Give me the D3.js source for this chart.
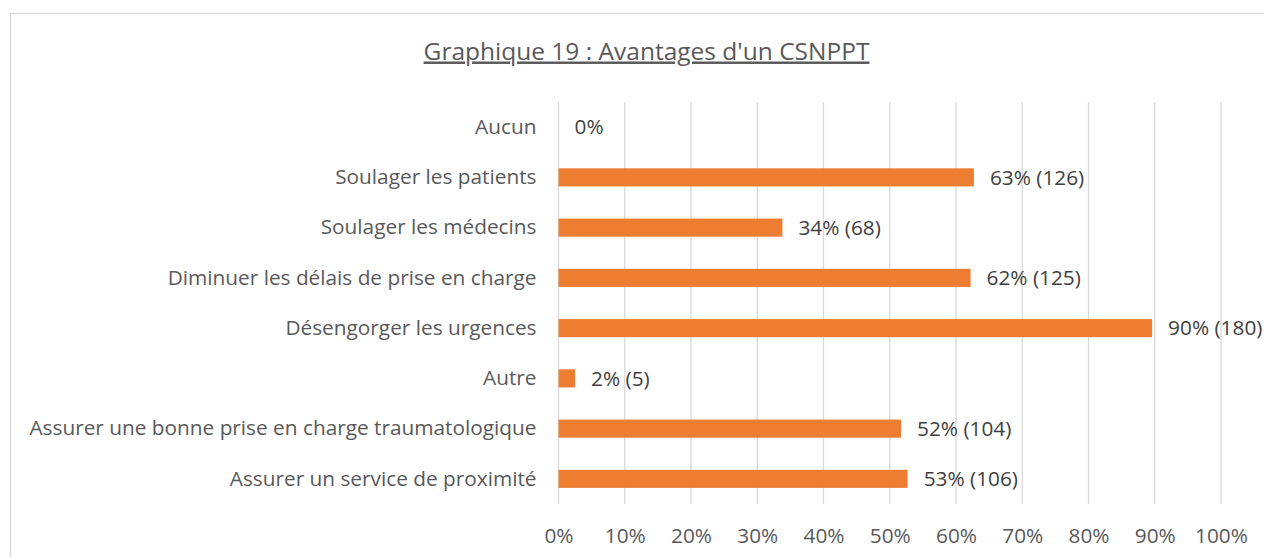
<!DOCTYPE html>
<html>
<head>
<meta charset="utf-8">
<script src="https://cdn.jsdelivr.net/npm/d3@7"></script>
<style>
  body { margin: 0; background: #fff; }
  text { font-family: "Open Sans", "Noto Sans", sans-serif; }
</style>
</head>
<body>
<script>
// Categories, top to bottom
const categories = [
    "Aucun",
    "Soulager les patients",
    "Soulager les médecins",
    "Diminuer les délais de prise en charge",
    "Désengorger les urgences",
    "Autre",
    "Assurer une bonne prise en charge traumatologique",
    "Assurer un service de proximité"
];
// Bar lengths in percent
const values = [0, 62.7, 33.8, 62.2, 89.6, 2.5, 51.7, 52.7];
// Data labels as printed
const labels = ["0%", "63% (126)", "34% (68)", "62% (125)", "90% (180)", "2% (5)", "52% (104)", "53% (106)"];
const ticks = [0, 10, 20, 30, 40, 50, 60, 70, 80, 90, 100];

const W = 1264, H = 557;
const plotLeft = 558.5, plotRight = 1221, plotTop = 102, plotBottom = 504;
const FS = 20.8;

const svg = d3.select("body").append("svg")
    .attr("width", W)
    .attr("height", H);

// chart frame
svg.append("rect")
    .attr("x", 10.5).attr("y", 13.5)
    .attr("width", 1264).attr("height", 600)
    .attr("fill", "none")
    .attr("stroke", "#d9d9d9")
    .attr("stroke-width", 1.3);

// Title
svg.append("text")
    .attr("x", 646.5)
    .attr("y", 59.5)
    .attr("text-anchor", "middle")
    .attr("font-size", 24.5)
    .attr("fill", "#595959")
    .attr("text-decoration", "underline")
    .text("Graphique 19 : Avantages d'un CSNPPT");

const x = d3.scaleLinear()
    .domain([0, 100])
    .range([plotLeft, plotRight]);

const y = d3.scaleBand()
    .domain(categories)
    .range([plotTop, plotBottom])
    .paddingInner(0.64)
    .paddingOuter(0.32);

// vertical gridlines
svg.append("g")
    .selectAll("line")
    .data(ticks)
    .enter()
    .append("line")
    .attr("x1", d => x(d)).attr("x2", d => x(d))
    .attr("y1", plotTop).attr("y2", plotBottom)
    .attr("stroke", "#d9d9d9")
    .attr("stroke-width", 1.3);

// x axis labels
const xAxis = svg.append("g")
    .attr("transform", `translate(0, ${plotBottom})`)
    .call(d3.axisBottom(x).tickValues(ticks).tickSize(0).tickPadding(24.5).tickFormat(d => d + "%"));
xAxis.select(".domain").remove();
xAxis.selectAll("text")
    .attr("font-size", FS)
    .attr("fill", "#595959")
    .attr("font-family", "\"Open Sans\", sans-serif");

// y axis labels
const yAxis = svg.append("g")
    .attr("transform", `translate(${plotLeft}, 0)`)
    .call(d3.axisLeft(y).tickSize(0).tickPadding(22));
yAxis.select(".domain").remove();
yAxis.selectAll("text")
    .attr("font-size", FS)
    .attr("fill", "#595959")
    .attr("font-family", "\"Open Sans\", sans-serif");

// bars
svg.selectAll("rect.bar")
    .data(values)
    .enter()
    .append("rect")
    .attr("class", "bar")
    .attr("x", x(0))
    .attr("y", (d, i) => y(categories[i]))
    .attr("width", d => x(d) - x(0))
    .attr("height", y.bandwidth())
    .attr("fill", "#ed7d31");

// data labels
svg.selectAll("text.lbl")
    .data(values)
    .enter()
    .append("text")
    .attr("class", "lbl")
    .attr("x", d => x(d) + 16)
    .attr("y", (d, i) => y(categories[i]) + y.bandwidth() / 2)
    .attr("dy", "0.35em")
    .attr("font-size", FS)
    .attr("fill", "#404040")
    .text((d, i) => labels[i]);
</script>
</body>
</html>
